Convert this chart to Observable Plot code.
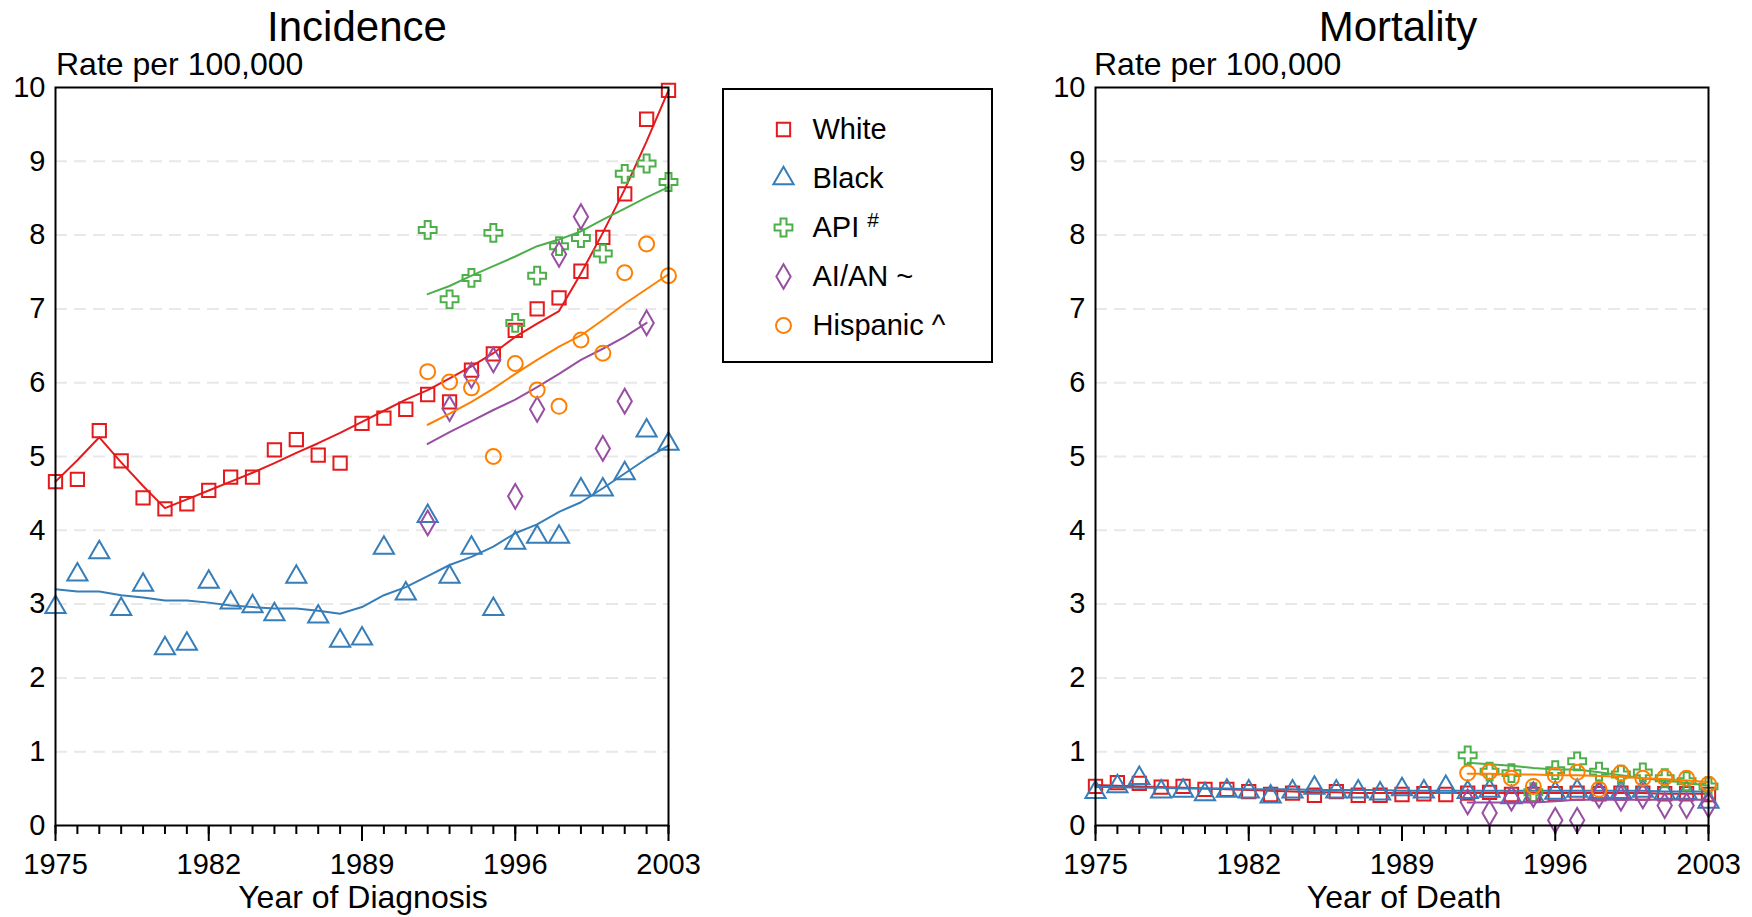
<!DOCTYPE html>
<html>
<head>
<meta charset="utf-8">
<script src="https://cdn.jsdelivr.net/npm/d3@7"></script>
<script src="https://cdn.jsdelivr.net/npm/@observablehq/plot@0.6"></script>
<style>
  html, body { margin: 0; padding: 0; background: #ffffff; }
  #root { position: relative; width: 1752px; height: 917px; overflow: hidden; background: #fff;
          font-family: "Liberation Sans", Arial, sans-serif; }
  .panel { position: absolute; top: 0; }
  #legend { position: absolute; left: 722px; top: 88px; width: 267px; height: 271px; border: 2px solid #000; background: #fff; }
  svg text { font-family: "Liberation Sans", Arial, sans-serif; }
</style>
</head>
<body>
<div id="root"></div>
<script>
// ---------- categories ----------
const seriesKeys = ["wht", "blk", "api", "aian", "hisp"];
const seriesNames = ["White", "Black", "API #", "AI/AN ~", "Hispanic ^"];
const seriesColors = ["#e41a1c", "#377eb8", "#4daf4a", "#984ea3", "#ff7f00"];
const seriesSymbols = ["square", "triangle", "cross", "diamond", "circle"];

const yearsAll = [1975,1976,1977,1978,1979,1980,1981,1982,1983,1984,1985,1986,1987,1988,1989,
                  1990,1991,1992,1993,1994,1995,1996,1997,1998,1999,2000,2001,2002,2003];
const yearsRecent = [1992,1993,1994,1995,1996,1997,1998,1999,2000,2001,2002,2003];
const yearTicks = [1975, 1982, 1989, 1996, 2003];
const rateTicks = [0,1,2,3,4,5,6,7,8,9,10];
const gridTicks = [1,2,3,4,5,6,7,8,9];

// ---------- Incidence (observed points and fitted trend) ----------
const incWhite    = [4.66,4.69,5.35,4.94,4.44,4.29,4.36,4.54,4.72,4.72,5.09,5.23,5.02,4.91,5.45,5.52,5.64,5.84,5.74,6.17,6.39,6.71,7.00,7.15,7.51,7.97,8.56,9.57,9.96];
const incWhiteFit = [4.66,4.95,5.26,4.92,4.60,4.30,4.42,4.54,4.66,4.78,4.91,5.05,5.18,5.32,5.47,5.62,5.77,5.90,6.06,6.22,6.40,6.62,6.80,6.97,7.48,8.03,8.62,9.27,9.96];
const incBlack    = [2.96,3.40,3.70,2.93,3.26,2.40,2.46,3.30,3.02,2.97,2.86,3.37,2.83,2.50,2.53,3.76,3.14,4.19,3.37,3.76,2.93,3.83,3.91,3.91,4.55,4.55,4.77,5.35,5.17];
const incBlackFit = [3.20,3.17,3.17,3.12,3.09,3.05,3.05,3.02,2.98,2.96,2.94,2.94,2.91,2.87,2.96,3.12,3.23,3.38,3.53,3.64,3.78,3.96,4.08,4.25,4.38,4.57,4.77,4.97,5.15];
const incApi      = [8.07,7.13,7.42,8.03,6.81,7.45,7.85,7.96,7.75,8.83,8.97,8.72];
const incApiFit   = [7.20,7.31,7.45,7.58,7.71,7.85,7.94,8.05,8.21,8.36,8.51,8.65];
const incAian     = [4.10,5.65,6.10,6.31,4.46,5.64,7.74,8.25,5.11,5.75,6.81,null];
const incAianFit  = [5.17,5.33,5.48,5.63,5.77,5.94,6.12,6.31,6.46,6.62,6.81,null];
const incHisp     = [6.15,6.01,5.93,5.00,6.26,5.90,5.68,6.58,6.40,7.49,7.88,7.45];
const incHispFit  = [5.43,5.58,5.74,5.92,6.12,6.31,6.49,6.64,6.85,7.07,7.27,7.47];

// ---------- Mortality (observed points and fitted trend) ----------
const mortWhite    = [0.53,0.58,0.57,0.52,0.53,0.49,0.49,0.46,0.42,0.44,0.41,0.46,0.41,0.41,0.42,0.43,0.42,0.44,0.45,0.42,0.42,0.43,0.44,0.43,0.44,0.44,0.43,0.43,0.42];
const mortWhiteFit = [0.55,0.54,0.53,0.52,0.51,0.50,0.49,0.48,0.47,0.46,0.45,0.45,0.44,0.44,0.44,0.44,0.44,0.44,0.44,0.44,0.44,0.44,0.44,0.44,0.44,0.44,0.43,0.43,0.43];
const mortBlack    = [0.45,0.53,0.64,0.46,0.47,0.42,0.47,0.46,0.39,0.46,0.51,0.46,0.46,0.43,0.49,0.46,0.52,0.45,0.47,0.38,0.40,0.44,0.47,0.45,0.45,0.47,0.44,0.44,0.32];
const mortBlackFit = [0.52,0.52,0.51,0.51,0.50,0.50,0.50,0.49,0.49,0.49,0.48,0.48,0.48,0.48,0.47,0.47,0.47,0.47,0.47,0.47,0.47,0.47,0.47,0.47,0.47,0.47,0.46,0.46,0.46];
const mortApi      = [0.95,0.73,0.71,0.45,0.75,0.87,0.73,0.69,0.72,0.64,0.60,0.53];
const mortApiFit   = [0.85,0.83,0.81,0.78,0.76,0.76,0.72,0.68,0.64,0.61,0.58,0.54];
const mortAian     = [0.32,0.17,0.37,0.42,0.07,0.07,0.41,0.37,0.40,0.27,0.27,0.28];
const mortAianFit  = [0.31,0.31,0.31,0.31,0.33,0.35,0.35,0.35,0.35,0.35,0.35,0.35];
const mortHisp     = [0.71,0.73,0.64,0.53,0.68,0.72,0.49,0.71,0.64,0.65,0.64,0.56];
const mortHispFit  = [0.70,0.70,0.69,0.69,0.68,0.68,0.67,0.66,0.64,0.63,0.61,0.59];

// ---------- helpers ----------
function rows(years, vals, series) {
  return years.map((year, i) => ({year, value: vals[i], series})).filter(d => d.value != null);
}

const incidenceSeries = [
  {pts: rows(yearsAll, incWhite, seriesKeys[0]),    fit: rows(yearsAll, incWhiteFit, seriesKeys[0])},
  {pts: rows(yearsAll, incBlack, seriesKeys[1]),    fit: rows(yearsAll, incBlackFit, seriesKeys[1])},
  {pts: rows(yearsRecent, incApi, seriesKeys[2]),   fit: rows(yearsRecent, incApiFit, seriesKeys[2])},
  {pts: rows(yearsRecent, incAian, seriesKeys[3]),  fit: rows(yearsRecent, incAianFit, seriesKeys[3])},
  {pts: rows(yearsRecent, incHisp, seriesKeys[4]),  fit: rows(yearsRecent, incHispFit, seriesKeys[4])}
];
const mortalitySeries = [
  {pts: rows(yearsAll, mortWhite, seriesKeys[0]),   fit: rows(yearsAll, mortWhiteFit, seriesKeys[0])},
  {pts: rows(yearsAll, mortBlack, seriesKeys[1]),   fit: rows(yearsAll, mortBlackFit, seriesKeys[1])},
  {pts: rows(yearsRecent, mortApi, seriesKeys[2]),  fit: rows(yearsRecent, mortApiFit, seriesKeys[2])},
  {pts: rows(yearsRecent, mortAian, seriesKeys[3]), fit: rows(yearsRecent, mortAianFit, seriesKeys[3])},
  {pts: rows(yearsRecent, mortHisp, seriesKeys[4]), fit: rows(yearsRecent, mortHispFit, seriesKeys[4])}
];

const FONT = "'Liberation Sans', Arial, sans-serif";
const colorScale = {domain: seriesKeys, range: seriesColors};
const symbolScale = {domain: seriesKeys, range: seriesSymbols};

function panel(series, width, marginRight) {
  const marks = [
    Plot.gridY(gridTicks, {stroke: "#e8e8e8", strokeOpacity: 1, strokeWidth: 2, strokeDasharray: "12,7"})
  ];
  for (const s of series) {
    marks.push(Plot.line(s.fit, {x: "year", y: "value", stroke: "series", strokeWidth: 2}));
    marks.push(Plot.dot(s.pts, {x: "year", y: "value", stroke: "series", symbol: "series",
                                 fill: "none", r: 7.5, strokeWidth: 2}));
  }
  marks.push(Plot.frame({stroke: "#000", strokeWidth: 2}));
  marks.push(Plot.axisY({ticks: rateTicks, tickSize: 0, tickPadding: 10, fontSize: 29, label: null}));
  marks.push(Plot.axisX({ticks: yearsAll, tickSize: 9, tickFormat: () => "", strokeWidth: 2, label: null}));
  marks.push(Plot.axisX({ticks: yearTicks, tickSize: 16, tickPadding: 12, tickFormat: d => String(d),
                         fontSize: 29, strokeWidth: 2, label: null}));
  return Plot.plot({
    width, height: 917,
    marginLeft: 55, marginRight, marginTop: 87, marginBottom: 92,
    x: {domain: [1975, 2003], label: null},
    y: {domain: [0, 10], label: null},
    color: colorScale,
    symbol: symbolScale,
    style: {fontFamily: FONT, color: "#000", background: "transparent", overflow: "visible"},
    marks
  });
}

function annotate(svg, title, titleX, xLabel, xLabelX, rateX) {
  const s = d3.select(svg);
  s.append("text").attr("x", titleX).attr("y", 41).attr("text-anchor", "middle")
    .attr("font-size", 42).attr("fill", "#000").text(title);
  s.append("text").attr("x", rateX).attr("y", 75).attr("text-anchor", "start")
    .attr("font-size", 32).attr("fill", "#000").text("Rate per 100,000");
  s.append("text").attr("x", xLabelX).attr("y", 908).attr("text-anchor", "middle")
    .attr("font-size", 32).attr("fill", "#000").text(xLabel);
}

const root = document.getElementById("root");

const left = panel(incidenceSeries, 720, 52);
left.classList.add("panel");
left.style.left = "0px";
annotate(left, "Incidence", 357, "Year of Diagnosis", 363, 56);
root.appendChild(left);

const right = panel(mortalitySeries, 712, 44);
right.classList.add("panel");
right.style.left = "1040px";
annotate(right, "Mortality", 358, "Year of Death", 364, 54);
root.appendChild(right);

// ---------- legend ----------
const legendDiv = document.createElement("div");
legendDiv.id = "legend";
const legendLabel = new Map(seriesKeys.map((k, i) => [k, seriesNames[i]]));
const legend = Plot.plot({
  width: 267, height: 271,
  marginLeft: 59, marginRight: 0, marginTop: 37, marginBottom: 35,
  y: {type: "point", domain: seriesKeys, padding: 0, axis: null},
  color: colorScale,
  symbol: symbolScale,
  style: {fontFamily: FONT, color: "#000", background: "transparent", overflow: "visible"},
  marks: [
    Plot.dot(seriesKeys, {y: d => d, frameAnchor: "left", stroke: d => d, symbol: d => d,
                          fill: "none", r: 7.5, strokeWidth: 2}),
    Plot.text(seriesKeys, {y: d => d, text: d => legendLabel.get(d), frameAnchor: "left", dx: 29,
                           textAnchor: "start", fontSize: 29, fill: "#000"})
  ]
});
d3.select(legend).selectAll("text")
  .filter(function () { return this.textContent === "API #"; })
  .each(function () {
    const t = d3.select(this);
    t.text("API ");
    t.append("tspan").attr("dy", "-0.45em").attr("font-size", "0.72em").text("#");
  });
legendDiv.appendChild(legend);
root.appendChild(legendDiv);
</script>
</body>
</html>
